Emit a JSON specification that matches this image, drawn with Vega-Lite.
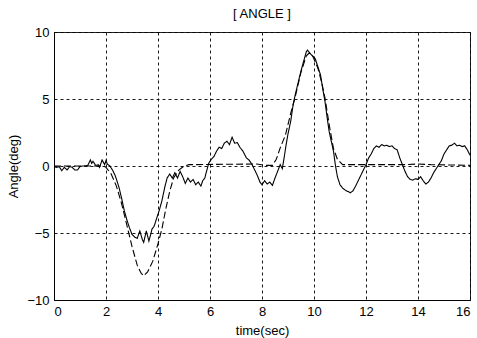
{
  "$schema": "https://vega.github.io/schema/vega-lite/v6.json",
  "width": 416,
  "height": 268,
  "autosize": {"type": "none"},
  "padding": {"left": 54, "top": 32, "right": 7, "bottom": 38},
  "background": "white",
  "title": {"text": "[ ANGLE ]", "fontSize": 13, "font": "Liberation Sans", "fontWeight": "normal", "color": "black", "offset": 5},
  "config": {
    "view": {"stroke": "#222", "strokeWidth": 1},
    "axis": {
      "labelFont": "Liberation Sans", "labelFontSize": 13, "labelColor": "black",
      "titleFont": "Liberation Sans", "titleFontSize": 13, "titleFontWeight": "normal", "titleColor": "black",
      "domainColor": "black", "grid": true, "gridColor": "black", "gridDash": [3, 3], "gridOpacity": 1, "gridWidth": 0.9,
      "ticks": false, "labelPadding": 5
    }
  },
  "data": {"values": [
    {"t":0,"v":-0.05,"s":"meas"},{"t":0.1,"v":-0.1,"s":"meas"},{"t":0.2,"v":-0.05,"s":"meas"},{"t":0.3,"v":-0.35,"s":"meas"},{"t":0.4,"v":-0.1,"s":"meas"},{"t":0.5,"v":-0.3,"s":"meas"},{"t":0.6,"v":-0.05,"s":"meas"},{"t":0.7,"v":-0.1,"s":"meas"},{"t":0.8,"v":-0.3,"s":"meas"},{"t":0.9,"v":-0.3,"s":"meas"},{"t":1.0,"v":-0.05,"s":"meas"},{"t":1.1,"v":0,"s":"meas"},{"t":1.2,"v":0,"s":"meas"},{"t":1.3,"v":0.05,"s":"meas"},{"t":1.4,"v":0.45,"s":"meas"},{"t":1.45,"v":0.2,"s":"meas"},{"t":1.5,"v":0.35,"s":"meas"},{"t":1.6,"v":0.05,"s":"meas"},{"t":1.7,"v":0.1,"s":"meas"},{"t":1.75,"v":-0.1,"s":"meas"},{"t":1.85,"v":0.45,"s":"meas"},{"t":1.95,"v":0.1,"s":"meas"},{"t":2.0,"v":0.4,"s":"meas"},{"t":2.05,"v":0.15,"s":"meas"},{"t":2.15,"v":0,"s":"meas"},{"t":2.25,"v":-0.3,"s":"meas"},{"t":2.35,"v":-0.7,"s":"meas"},{"t":2.42,"v":-1.1,"s":"meas"},{"t":2.5,"v":-1.6,"s":"meas"},{"t":2.6,"v":-2.4,"s":"meas"},{"t":2.7,"v":-3.3,"s":"meas"},{"t":2.8,"v":-4.0,"s":"meas"},{"t":2.9,"v":-4.6,"s":"meas"},{"t":3.0,"v":-5.1,"s":"meas"},{"t":3.1,"v":-5.3,"s":"meas"},{"t":3.2,"v":-5.4,"s":"meas"},{"t":3.3,"v":-4.85,"s":"meas"},{"t":3.4,"v":-5.5,"s":"meas"},{"t":3.45,"v":-5.7,"s":"meas"},{"t":3.55,"v":-4.85,"s":"meas"},{"t":3.65,"v":-5.6,"s":"meas"},{"t":3.72,"v":-5.1,"s":"meas"},{"t":3.77,"v":-4.7,"s":"meas"},{"t":3.85,"v":-4.5,"s":"meas"},{"t":3.95,"v":-3.9,"s":"meas"},{"t":4.05,"v":-3.3,"s":"meas"},{"t":4.15,"v":-2.6,"s":"meas"},{"t":4.27,"v":-1.5,"s":"meas"},{"t":4.35,"v":-0.9,"s":"meas"},{"t":4.45,"v":-0.6,"s":"meas"},{"t":4.55,"v":-0.9,"s":"meas"},{"t":4.65,"v":-0.5,"s":"meas"},{"t":4.75,"v":-0.9,"s":"meas"},{"t":4.85,"v":-0.4,"s":"meas"},{"t":4.95,"v":-0.8,"s":"meas"},{"t":5.05,"v":-1.3,"s":"meas"},{"t":5.15,"v":-0.9,"s":"meas"},{"t":5.25,"v":-1.2,"s":"meas"},{"t":5.35,"v":-1.0,"s":"meas"},{"t":5.45,"v":-1.4,"s":"meas"},{"t":5.55,"v":-1.2,"s":"meas"},{"t":5.65,"v":-1.5,"s":"meas"},{"t":5.72,"v":-1.1,"s":"meas"},{"t":5.8,"v":-0.9,"s":"meas"},{"t":5.88,"v":-0.3,"s":"meas"},{"t":5.95,"v":0.2,"s":"meas"},{"t":6.05,"v":0.5,"s":"meas"},{"t":6.15,"v":0.7,"s":"meas"},{"t":6.25,"v":1.1,"s":"meas"},{"t":6.35,"v":1.4,"s":"meas"},{"t":6.45,"v":1.3,"s":"meas"},{"t":6.55,"v":1.7,"s":"meas"},{"t":6.65,"v":1.85,"s":"meas"},{"t":6.75,"v":1.6,"s":"meas"},{"t":6.85,"v":2.15,"s":"meas"},{"t":6.95,"v":1.7,"s":"meas"},{"t":7.05,"v":1.75,"s":"meas"},{"t":7.15,"v":1.4,"s":"meas"},{"t":7.27,"v":1.1,"s":"meas"},{"t":7.4,"v":0.6,"s":"meas"},{"t":7.5,"v":0.45,"s":"meas"},{"t":7.62,"v":0.1,"s":"meas"},{"t":7.72,"v":-0.3,"s":"meas"},{"t":7.82,"v":-0.7,"s":"meas"},{"t":7.92,"v":-1.2,"s":"meas"},{"t":8.0,"v":-1.4,"s":"meas"},{"t":8.1,"v":-1.1,"s":"meas"},{"t":8.2,"v":-1.35,"s":"meas"},{"t":8.3,"v":-1.2,"s":"meas"},{"t":8.4,"v":-1.45,"s":"meas"},{"t":8.5,"v":-0.9,"s":"meas"},{"t":8.6,"v":-0.4,"s":"meas"},{"t":8.7,"v":0.1,"s":"meas"},{"t":8.78,"v":-0.2,"s":"meas"},{"t":8.85,"v":0.6,"s":"meas"},{"t":8.92,"v":1.5,"s":"meas"},{"t":9.0,"v":2.4,"s":"meas"},{"t":9.1,"v":3.3,"s":"meas"},{"t":9.2,"v":4.6,"s":"meas"},{"t":9.3,"v":5.5,"s":"meas"},{"t":9.4,"v":6.3,"s":"meas"},{"t":9.5,"v":7.1,"s":"meas"},{"t":9.6,"v":7.8,"s":"meas"},{"t":9.7,"v":8.5,"s":"meas"},{"t":9.75,"v":8.65,"s":"meas"},{"t":9.85,"v":8.4,"s":"meas"},{"t":9.95,"v":8.2,"s":"meas"},{"t":10.05,"v":8.0,"s":"meas"},{"t":10.15,"v":7.4,"s":"meas"},{"t":10.25,"v":6.8,"s":"meas"},{"t":10.35,"v":5.6,"s":"meas"},{"t":10.42,"v":4.85,"s":"meas"},{"t":10.5,"v":3.7,"s":"meas"},{"t":10.58,"v":2.6,"s":"meas"},{"t":10.67,"v":1.8,"s":"meas"},{"t":10.75,"v":1.1,"s":"meas"},{"t":10.82,"v":0.1,"s":"meas"},{"t":10.9,"v":-0.8,"s":"meas"},{"t":11.0,"v":-1.4,"s":"meas"},{"t":11.1,"v":-1.65,"s":"meas"},{"t":11.2,"v":-1.8,"s":"meas"},{"t":11.3,"v":-1.9,"s":"meas"},{"t":11.4,"v":-2.0,"s":"meas"},{"t":11.5,"v":-1.85,"s":"meas"},{"t":11.6,"v":-1.5,"s":"meas"},{"t":11.7,"v":-1.1,"s":"meas"},{"t":11.8,"v":-0.7,"s":"meas"},{"t":11.9,"v":-0.3,"s":"meas"},{"t":12.0,"v":0.1,"s":"meas"},{"t":12.1,"v":0.6,"s":"meas"},{"t":12.2,"v":0.9,"s":"meas"},{"t":12.3,"v":1.3,"s":"meas"},{"t":12.4,"v":1.5,"s":"meas"},{"t":12.5,"v":1.4,"s":"meas"},{"t":12.6,"v":1.6,"s":"meas"},{"t":12.7,"v":1.5,"s":"meas"},{"t":12.8,"v":1.55,"s":"meas"},{"t":12.9,"v":1.45,"s":"meas"},{"t":13.0,"v":1.5,"s":"meas"},{"t":13.1,"v":1.3,"s":"meas"},{"t":13.2,"v":1.2,"s":"meas"},{"t":13.3,"v":0.6,"s":"meas"},{"t":13.4,"v":0.1,"s":"meas"},{"t":13.5,"v":-0.4,"s":"meas"},{"t":13.6,"v":-0.8,"s":"meas"},{"t":13.7,"v":-1.0,"s":"meas"},{"t":13.8,"v":-1.05,"s":"meas"},{"t":13.9,"v":-0.95,"s":"meas"},{"t":14.0,"v":-1.0,"s":"meas"},{"t":14.1,"v":-0.8,"s":"meas"},{"t":14.2,"v":-1.1,"s":"meas"},{"t":14.3,"v":-1.35,"s":"meas"},{"t":14.4,"v":-1.2,"s":"meas"},{"t":14.5,"v":-0.9,"s":"meas"},{"t":14.6,"v":-0.5,"s":"meas"},{"t":14.7,"v":-0.2,"s":"meas"},{"t":14.8,"v":0.1,"s":"meas"},{"t":14.9,"v":0.4,"s":"meas"},{"t":15.0,"v":0.9,"s":"meas"},{"t":15.1,"v":1.2,"s":"meas"},{"t":15.2,"v":1.5,"s":"meas"},{"t":15.3,"v":1.55,"s":"meas"},{"t":15.4,"v":1.7,"s":"meas"},{"t":15.5,"v":1.5,"s":"meas"},{"t":15.6,"v":1.55,"s":"meas"},{"t":15.7,"v":1.45,"s":"meas"},{"t":15.8,"v":1.5,"s":"meas"},{"t":15.9,"v":1.2,"s":"meas"},{"t":16.0,"v":0.8,"s":"meas"},
    {"t":0,"v":0,"s":"ref"},{"t":1.9,"v":0,"s":"ref"},{"t":2.0,"v":-0.1,"s":"ref"},{"t":2.2,"v":-0.6,"s":"ref"},{"t":2.4,"v":-1.5,"s":"ref"},{"t":2.6,"v":-2.8,"s":"ref"},{"t":2.8,"v":-4.4,"s":"ref"},{"t":3.0,"v":-6.0,"s":"ref"},{"t":3.2,"v":-7.4,"s":"ref"},{"t":3.35,"v":-8.0,"s":"ref"},{"t":3.45,"v":-8.2,"s":"ref"},{"t":3.6,"v":-7.9,"s":"ref"},{"t":3.8,"v":-7.1,"s":"ref"},{"t":4.0,"v":-5.8,"s":"ref"},{"t":4.15,"v":-4.7,"s":"ref"},{"t":4.3,"v":-3.2,"s":"ref"},{"t":4.45,"v":-1.9,"s":"ref"},{"t":4.6,"v":-0.9,"s":"ref"},{"t":4.8,"v":-0.3,"s":"ref"},{"t":5.0,"v":0,"s":"ref"},{"t":5.2,"v":0.1,"s":"ref"},{"t":7.8,"v":0.15,"s":"ref"},{"t":8.1,"v":0.05,"s":"ref"},{"t":8.4,"v":0.05,"s":"ref"},{"t":8.55,"v":0.5,"s":"ref"},{"t":8.7,"v":1.35,"s":"ref"},{"t":8.9,"v":2.3,"s":"ref"},{"t":9.1,"v":3.9,"s":"ref"},{"t":9.27,"v":5.1,"s":"ref"},{"t":9.5,"v":7.0,"s":"ref"},{"t":9.7,"v":8.2,"s":"ref"},{"t":9.82,"v":8.45,"s":"ref"},{"t":9.95,"v":8.2,"s":"ref"},{"t":10.15,"v":7.3,"s":"ref"},{"t":10.3,"v":6.2,"s":"ref"},{"t":10.42,"v":5.1,"s":"ref"},{"t":10.6,"v":2.9,"s":"ref"},{"t":10.75,"v":1.3,"s":"ref"},{"t":10.9,"v":0.5,"s":"ref"},{"t":11.1,"v":0.1,"s":"ref"},{"t":13.5,"v":0.1,"s":"ref"},{"t":14.0,"v":0.15,"s":"ref"},{"t":14.5,"v":0.1,"s":"ref"},{"t":16,"v":0.05,"s":"ref"}
  ]},
  "mark": {"type": "line", "color": "black", "strokeWidth": 1.1, "clip": true},
  "encoding": {
    "x": {"field": "t", "type": "quantitative", "scale": {"domain": [0, 16], "nice": false},
          "axis": {"title": "time(sec)", "values": [0,2,4,6,8,10,12,14,16], "titlePadding": 6}},
    "y": {"field": "v", "type": "quantitative", "scale": {"domain": [-10, 10], "nice": false},
          "axis": {"title": "Angle(deg)", "values": [-10,-5,0,5,10], "titlePadding": 6}},
    "strokeDash": {"field": "s", "type": "nominal", "scale": {"domain": ["meas", "ref"], "range": [[1, 0], [7, 3]]}, "legend": null},
    "detail": {"field": "s"}
  }
}
